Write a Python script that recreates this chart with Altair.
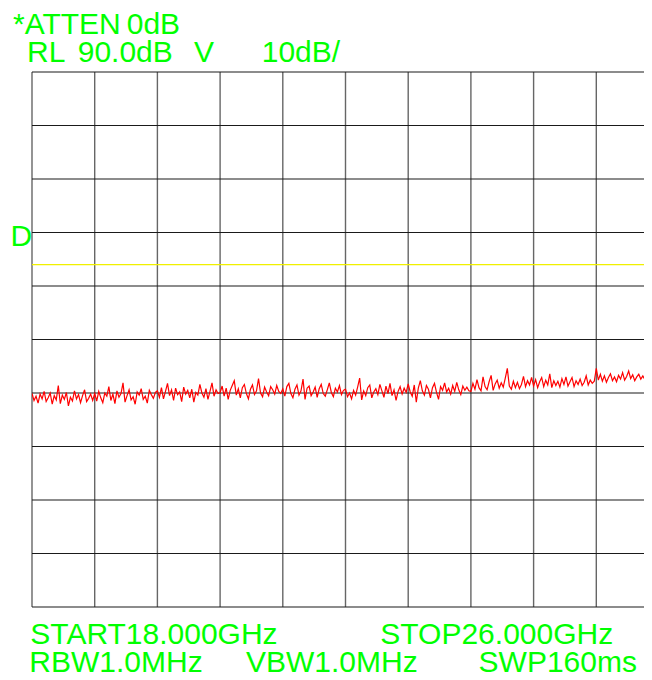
import altair as alt
import pandas as pd

# ---- data ----
START_GHZ = 18.0
STOP_GHZ = 26.0
REF_LEVEL = 90.0
DB_PER_DIV = 10.0
DISPLAY_LINE_DB = 54.0

trace_db = [
    # div 0
    29.9, 28.6, 29.4, 28.1, 29.8, 28.9, 30.3, 28.4, 29.1, 30.0, 27.9, 29.5, 28.7, 31.4, 28.0, 29.6, 28.8, 30.1, 27.6, 29.2, 28.5, 30.4, 28.9, 29.7, 28.2, 29.5, 30.6, 28.4, 29.0, 29.8, 28.6,
    # div 1
    29.9, 28.5, 30.3, 29.1, 28.2, 30.0, 29.4, 31.2, 28.6, 29.8, 28.0, 30.4, 29.2, 29.9, 31.9, 28.3, 29.5, 30.6, 28.7, 29.3, 27.9, 30.2, 29.6, 30.8, 28.8, 29.4, 28.1, 30.5, 29.7, 29.0, 30.1,
    # div 2
    30.4, 29.2, 31.0, 28.9, 30.3, 31.8, 29.5, 30.6, 28.6, 30.9, 29.7, 30.2, 28.4, 31.1, 29.8, 30.5, 29.1, 30.7, 28.3, 30.1, 29.6, 31.6, 30.0, 29.2, 30.8, 28.8, 30.3, 31.9, 29.4, 30.6, 29.9,
    # div 3
    30.1, 31.3, 29.4, 30.9, 28.8, 30.5, 31.4, 32.3, 29.6, 30.8, 29.1, 31.0, 31.6, 29.9, 28.9, 30.7, 31.5, 29.7, 30.4, 32.7, 30.0, 29.3, 31.1, 30.2, 29.5, 31.2, 30.6, 29.8, 31.4, 30.3, 29.9,
    # div 4
    30.8, 29.4, 31.2, 31.8, 29.9, 29.1, 30.7, 31.5, 29.6, 30.4, 32.6, 28.8, 30.9, 31.3, 29.5, 30.2, 31.1, 29.2, 30.8, 31.6, 29.9, 29.4, 30.6, 31.9, 30.1, 29.3, 30.9, 30.2, 31.4, 29.7, 30.5,
    # div 5
    30.7, 29.3, 30.0, 28.9, 30.5, 29.6, 31.1, 32.8, 28.7, 30.4, 29.5, 31.0, 31.5, 29.1, 30.2, 30.8, 29.7, 31.6, 30.4, 29.2, 31.3, 29.9, 31.8, 29.5, 30.6, 28.6, 30.3, 31.2, 29.8, 30.9, 30.1,
    # div 6
    31.7, 30.2, 29.4, 31.5, 28.3, 30.9, 32.3, 30.4, 29.6, 31.4, 30.7, 29.1, 31.0, 31.8, 30.1, 28.8, 31.2, 30.5, 31.9, 30.2, 30.9, 29.8, 31.4, 30.3, 32.0, 30.6, 29.7, 31.3, 30.5, 31.1, 30.4,
    # div 7
    30.3, 31.8, 30.7, 32.5, 31.0, 30.4, 33.0, 31.2, 30.6, 32.1, 33.3, 30.5, 31.7, 32.4, 30.9, 31.9, 31.1, 32.8, 34.6, 31.3, 30.7, 32.2, 31.0, 32.0, 30.8, 31.6, 33.1, 31.2, 32.3, 31.5, 32.9,
    # div 8
    31.3, 32.5, 31.0, 32.1, 32.9, 31.2, 32.4, 31.5, 33.6, 31.0, 32.3, 31.4, 32.2, 31.1, 32.7, 31.6, 33.0, 31.3, 32.1, 32.9, 31.2, 32.3, 31.6, 32.6, 31.4, 32.0, 33.2, 31.5, 32.4, 31.8, 32.2,
    # div 9
    34.6, 32.4, 33.5, 32.2, 33.2, 32.0, 32.9, 33.6, 32.3, 33.0, 32.1, 33.3, 32.6, 33.8, 32.4, 33.1, 34.1, 32.7, 33.4, 32.3, 33.0, 33.5, 32.6, 33.2, 32.5, 33.3, 32.8, 33.6, 32.7, 33.1, 32.9, 33.0,
]

top_labels = ["*ATTEN", "0dB", "RL", "90.0dB", "V", "10dB/"]
side_labels = ["D"]
bottom_labels = ["START18.000GHz", "STOP26.000GHz", "RBW1.0MHz", "VBW1.0MHz", "SWP160ms"]

# ---- build tables ----
n = len(trace_db)
step = (STOP_GHZ - START_GHZ) / (n - 1)
trace = pd.DataFrame({"freq": [START_GHZ + i * step for i in range(n)], "db": trace_db})

x_ticks = [START_GHZ + i * (STOP_GHZ - START_GHZ) / 10 for i in range(11)]
y_ticks = [REF_LEVEL - i * DB_PER_DIV for i in range(11)]
y_min = REF_LEVEL - 10 * DB_PER_DIV

# the screen is cut at the right edge: 612 of the 627 px of the graticule are visible
PLOT_W = 612
FULL_W = 627
x_end = START_GHZ + (STOP_GHZ - START_GHZ) * PLOT_W / FULL_W
x_ticks = [t for t in x_ticks if t <= x_end]

xs = alt.Scale(domain=[START_GHZ, x_end], nice=False, zero=False)
ys = alt.Scale(domain=[y_min, REF_LEVEL], nice=False, zero=False)

FONT = "Liberation Sans, Arial, sans-serif"
GREEN = "#00ff00"

xgrid = alt.Chart(pd.DataFrame({"f": x_ticks})).mark_rule(
    color="#666666", strokeWidth=1.4
).encode(x=alt.X("f:Q", scale=xs, axis=None))

ygrid = alt.Chart(pd.DataFrame({"d": y_ticks})).mark_rule(
    color="#1a1a1a", strokeWidth=1.1
).encode(y=alt.Y("d:Q", scale=ys, axis=None))

dline = alt.Chart(pd.DataFrame({"d": [DISPLAY_LINE_DB]})).mark_rule(
    color="#f0f000", strokeWidth=1.1
).encode(y=alt.Y("d:Q", scale=ys, axis=None))

line = alt.Chart(trace).mark_line(color="#ff0000", strokeWidth=1.2, clip=True).encode(
    x=alt.X("freq:Q", scale=xs, axis=None),
    y=alt.Y("db:Q", scale=ys, axis=None),
)


def label(txt, x, y):
    return alt.Chart(pd.DataFrame({"t": [txt]})).mark_text(
        font=FONT, fontSize=30, color=GREEN, align="left", baseline="alphabetic"
    ).encode(text="t:N", x=alt.value(x), y=alt.value(y))


texts = [
    label(top_labels[0], -19, -38),
    label(top_labels[1], 94.7, -38),
    label(top_labels[2], -5, -10),
    label(top_labels[3], 45.7, -10),
    label(top_labels[4], 162, -10),
    label(top_labels[5], 229.7, -10),
    label(side_labels[0], -21.4, 174),
    label(bottom_labels[0], -1.7, 571.5),
    label(bottom_labels[1], 348.3, 571.5),
    label(bottom_labels[2], -2.7, 600),
    label(bottom_labels[3], 214, 600),
    label(bottom_labels[4], 446.6, 600),
]

chart = alt.layer(xgrid, ygrid, dline, line, *texts).properties(
    width=PLOT_W,
    height=535,
    autosize=alt.AutoSizeParams(type="none"),
    padding={"left": 24, "top": 64, "right": 0, "bottom": 72},
    background="white",
).configure_view(strokeWidth=0)

chart.save("out.html", embed_options={"renderer": "svg", "actions": False})
